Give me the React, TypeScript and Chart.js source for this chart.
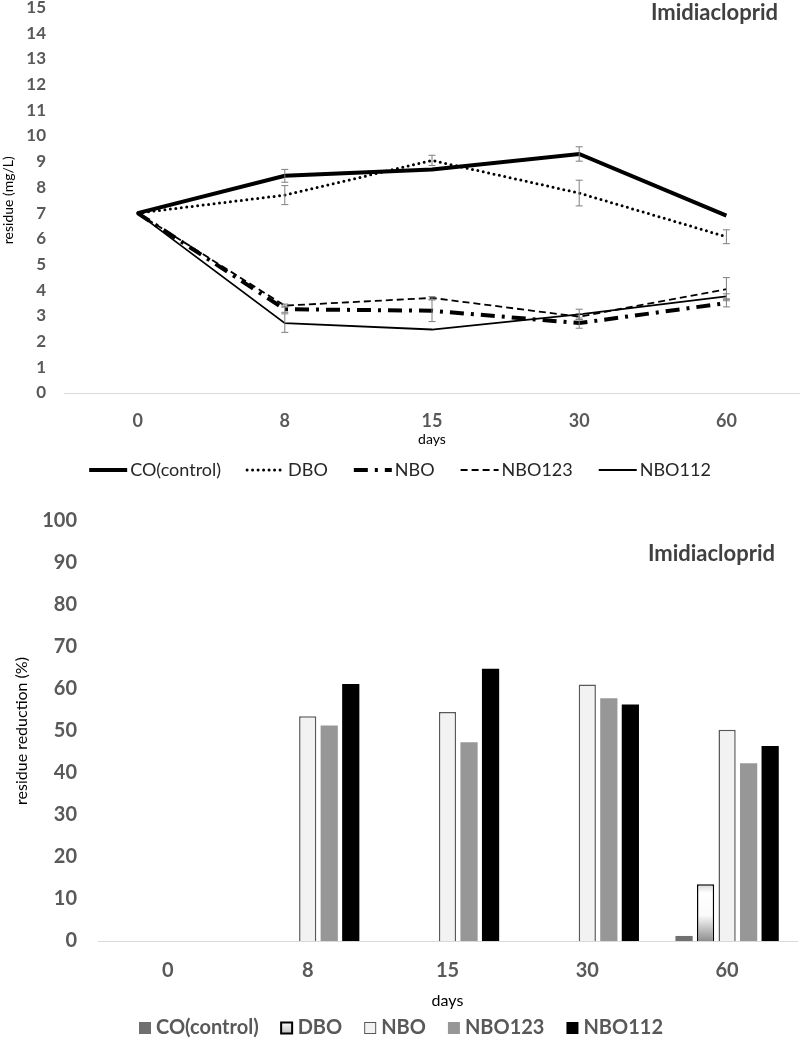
import React, { useEffect, useRef } from "react";
import { Chart, registerables } from "chart.js";

Chart.register(...registerables);

const FONT = "Lato, 'Open Sans', sans-serif";

// ---------- data ----------
const days = ["0", "8", "15", "30", "60"];
const seriesNames = ["CO(control)", "DBO", "NBO", "NBO123", "NBO112"];

// residue (mg/L)
const residueCO = [7.0, 8.45, 8.7, 9.3, 6.9];
const residueDBO = [7.0, 7.7, 9.05, 7.78, 6.08];
const residueNBO = [7.0, 3.26, 3.2, 2.72, 3.5];
const residueNBO123 = [7.0, 3.4, 3.7, 2.97, 4.04];
const residueNBO112 = [7.0, 2.72, 2.47, 3.06, 3.76];

// error bar half-widths (mg/L)
const errCO = [0, 0.25, 0, 0.28, 0];
const errDBO = [0, 0.37, 0.2, 0.5, 0.27];
const errNBO = [0, 0.12, 0.42, 0.2, 0.15];
const errNBO123 = [0, 0.06, 0.05, 0.12, 0.45];
const errNBO112 = [0, 0.36, 0, 0.2, 0.1];

// residue reduction (%)
const reductionCO = [0, 0, 0, 0, 1.2];
const reductionDBO = [0, 0, 0, 0, 13.5];
const reductionNBO = [0, 53.5, 54.5, 61.1, 50.3];
const reductionNBO123 = [0, 51.3, 47.3, 57.8, 42.3];
const reductionNBO112 = [0, 61.2, 64.8, 56.3, 46.4];

const residueAxis = { min: 0, max: 15, step: 1 };
const reductionAxis = { min: 0, max: 100, step: 10 };

const chemical = "Imidiacloprid";
const xTitle = "days";
const residueTitle = "residue (mg/L)";
const reductionTitle = "residue reduction (%)";

// ---------- plugins ----------
const cornerTitle = {
  id: "cornerTitle",
  afterDraw(chart: any, _a: any, opts: any) {
    if (!opts || !opts.text) return;
    const ctx = chart.ctx;
    ctx.save();
    ctx.font = `bold ${opts.size}px ${FONT}`;
    ctx.fillStyle = opts.color;
    ctx.textAlign = "right";
    ctx.textBaseline = "middle";
    ctx.fillText(opts.text, opts.x, opts.y);
    ctx.restore();
  },
};

const errorBars = {
  id: "errorBars",
  afterDatasetsDraw(chart: any) {
    const ctx = chart.ctx;
    const ys = chart.scales.y;
    ctx.save();
    ctx.strokeStyle = "#7f7f7f";
    ctx.lineWidth = 1;
    chart.data.datasets.forEach((ds: any, di: number) => {
      if (!ds.errorBars) return;
      const meta = chart.getDatasetMeta(di);
      ds.errorBars.forEach((e: number, i: number) => {
        if (!e) return;
        const v = ds.data[i];
        const x = meta.data[i].x;
        const yt = ys.getPixelForValue(v + e);
        const yb = ys.getPixelForValue(v - e);
        ctx.beginPath();
        ctx.moveTo(x, yt);
        ctx.lineTo(x, yb);
        ctx.moveTo(x - 3.5, yt);
        ctx.lineTo(x + 3.5, yt);
        ctx.moveTo(x - 3.5, yb);
        ctx.lineTo(x + 3.5, yb);
        ctx.stroke();
      });
    });
    ctx.restore();
  },
};

const customLegend = {
  id: "customLegend",
  afterDraw(chart: any, _a: any, opts: any) {
    if (!opts || !opts.kind) return;
    const ctx = chart.ctx;
    ctx.save();
    ctx.font = opts.font;
    const items = chart.data.datasets.map((ds: any) => ({
      ds,
      w: ctx.measureText(ds.label).width,
    }));
    const total =
      items.reduce((s: number, it: any) => s + opts.sampleWidth + opts.sampleGap + it.w, 0) +
      opts.gap * (items.length - 1);
    let x = opts.centerX - total / 2;
    const y = opts.y;
    items.forEach(({ ds, w }: any) => {
      if (opts.kind === "line") {
        ctx.save();
        ctx.strokeStyle = ds.borderColor;
        ctx.lineWidth = ds.borderWidth;
        ctx.setLineDash(ds.borderDash || []);
        ctx.lineCap = ds.borderCapStyle || "butt";
        ctx.beginPath();
        ctx.moveTo(x, y);
        ctx.lineTo(x + opts.sampleWidth, y);
        ctx.stroke();
        ctx.restore();
      } else {
        const s = opts.sampleWidth;
        ctx.save();
        if (ds.legendGradient) {
          const g = ctx.createLinearGradient(0, y - s / 2, 0, y + s / 2);
          g.addColorStop(0, "#ffffff");
          g.addColorStop(1, "#bdbdbd");
          ctx.fillStyle = g;
        } else {
          ctx.fillStyle = ds.backgroundColor;
        }
        ctx.fillRect(x, y - s / 2, s, s);
        if (ds.legendBorder) {
          ctx.strokeStyle = ds.legendBorder;
          ctx.lineWidth = ds.legendBorderWidth || 1;
          ctx.strokeRect(x + 0.5, y - s / 2 + 0.5, s - 1, s - 1);
        }
        ctx.restore();
      }
      ctx.fillStyle = opts.color;
      ctx.textBaseline = "middle";
      ctx.textAlign = "left";
      ctx.fillText(ds.label, x + opts.sampleWidth + opts.sampleGap, y);
      x += opts.sampleWidth + opts.sampleGap + w + opts.gap;
    });
    ctx.restore();
  },
};

// ---------- charts ----------
function makeLineChart(canvas: HTMLCanvasElement) {
  const mk = (i: number, data: number[], err: number[], width: number, dash: number[], cap = "butt") => ({
    label: seriesNames[i],
    data,
    errorBars: err,
    borderColor: "#000000",
    backgroundColor: "#000000",
    borderWidth: width,
    borderDash: dash,
    borderCapStyle: cap,
    pointRadius: 0,
    pointHoverRadius: 0,
    tension: 0,
    fill: false,
  });
  return new Chart(canvas, {
    type: "line",
    data: {
      labels: days,
      datasets: [
        mk(0, residueCO, errCO, 4, []),
        mk(1, residueDBO, errDBO, 3, [0, 5.5], "round"),
        mk(2, residueNBO, errNBO, 4, [14, 7, 3, 7]),
        mk(3, residueNBO123, errNBO123, 1.8, [7, 4]),
        mk(4, residueNBO112, errNBO112, 1.8, []),
      ] as any,
    },
    options: {
      animation: false,
      responsive: false,
      maintainAspectRatio: false,
      layout: { padding: { left: 0, right: 0, top: 0, bottom: 37 } },
      plugins: {
        legend: { display: false },
        tooltip: { enabled: false },
        cornerTitle: { text: chemical, x: 778, y: 13, size: 22, color: "#404040" },
        customLegend: {
          kind: "line",
          font: `18px ${FONT}`,
          color: "#262626",
          y: 470,
          centerX: 400,
          sampleWidth: 38,
          sampleGap: 3,
          gap: 26,
        },
      } as any,
      scales: {
        x: {
          offset: true,
          grid: { display: false, drawTicks: false },
          border: { display: true, color: "#d9d9d9", width: 1 },
          ticks: { font: { family: FONT, size: 18, weight: "bold" }, color: "#595959", padding: 17 },
          title: {
            display: true,
            text: xTitle,
            font: { family: FONT, size: 14 },
            color: "#000000",
            padding: { top: 0, bottom: 5 },
          },
          afterFit: (s: any) => {
            s.height = 60;
          },
        },
        y: {
          min: residueAxis.min,
          max: residueAxis.max,
          grid: { display: false, drawTicks: false },
          border: { display: false },
          ticks: {
            stepSize: residueAxis.step,
            font: { family: FONT, size: 17, weight: "bold" },
            color: "#595959",
            padding: 18,
          },
          title: {
            display: true,
            text: residueTitle,
            font: { family: FONT, size: 14 },
            color: "#000000",
            padding: { top: 0, bottom: 0 },
          },
          afterFit: (s: any) => {
            s.width = 64;
            s.paddingTop = 7.5;
          },
        },
      } as any,
    },
    plugins: [errorBars, cornerTitle, customLegend],
  });
}

function makeBarChart(canvas: HTMLCanvasElement) {
  const dboGradient = (c: any) => {
    const chart = c.chart;
    const ys = chart.scales && chart.scales.y;
    if (!chart.chartArea || !ys) return "#eeeeee";
    const v = c.raw || 0;
    const top = ys.getPixelForValue(v);
    const base = ys.getPixelForValue(0);
    const g = chart.ctx.createLinearGradient(0, top, 0, base);
    g.addColorStop(0, "#d6d6d6");
    g.addColorStop(0.15, "#ffffff");
    g.addColorStop(0.55, "#fafafa");
    g.addColorStop(1, "#8f8f8f");
    return g;
  };
  return new Chart(canvas, {
    type: "bar",
    data: {
      labels: days,
      datasets: [
        { label: seriesNames[0], data: reductionCO, backgroundColor: "#707070", borderWidth: 0 },
        {
          label: seriesNames[1],
          data: reductionDBO,
          backgroundColor: dboGradient,
          borderColor: "#000000",
          borderWidth: 1.5,
          legendGradient: true,
          legendBorder: "#000000",
          legendBorderWidth: 2,
        },
        {
          label: seriesNames[2],
          data: reductionNBO,
          backgroundColor: "#f2f2f2",
          borderColor: "#595959",
          borderWidth: 1.5,
          legendBorder: "#595959",
          legendBorderWidth: 1,
        },
        { label: seriesNames[3], data: reductionNBO123, backgroundColor: "#979797", borderWidth: 0 },
        { label: seriesNames[4], data: reductionNBO112, backgroundColor: "#000000", borderWidth: 0 },
      ] as any,
    },
    options: {
      animation: false,
      responsive: false,
      maintainAspectRatio: false,
      layout: { padding: { left: 0, right: 3, top: 0, bottom: 27 } },
      datasets: { bar: { categoryPercentage: 0.77, barPercentage: 0.8 } } as any,
      plugins: {
        legend: { display: false },
        tooltip: { enabled: false },
        cornerTitle: { text: chemical, x: 775, y: 64, size: 22, color: "#404040" },
        customLegend: {
          kind: "box",
          font: `bold 20px ${FONT}`,
          color: "#595959",
          y: 538,
          centerX: 401,
          sampleWidth: 12,
          sampleGap: 5,
          gap: 22,
        },
      } as any,
      scales: {
        x: {
          grid: { display: false, drawTicks: false },
          border: { display: true, color: "#d9d9d9", width: 1 },
          ticks: { font: { family: FONT, size: 20, weight: "bold" }, color: "#595959", padding: 18 },
          title: {
            display: true,
            text: xTitle,
            font: { family: FONT, size: 16 },
            color: "#000000",
            padding: { top: 0, bottom: 3 },
          },
          afterFit: (s: any) => {
            s.height = 72;
          },
        },
        y: {
          min: reductionAxis.min,
          max: reductionAxis.max,
          grid: { display: false, drawTicks: false },
          border: { display: false },
          ticks: {
            stepSize: reductionAxis.step,
            font: { family: FONT, size: 20, weight: "bold" },
            color: "#595959",
            padding: 21,
          },
          title: {
            display: true,
            text: reductionTitle,
            font: { family: FONT, size: 16 },
            color: "#000000",
            padding: { top: 12, bottom: 0 },
          },
          afterFit: (s: any) => {
            s.width = 98;
            s.paddingTop = 31;
          },
        },
      } as any,
    },
    plugins: [cornerTitle, customLegend],
  });
}

export default function App() {
  const topRef = useRef<HTMLCanvasElement | null>(null);
  const botRef = useRef<HTMLCanvasElement | null>(null);

  useEffect(() => {
    document.body.style.margin = "0";
    document.body.style.background = "#ffffff";
    const c1 = topRef.current ? makeLineChart(topRef.current) : null;
    const c2 = botRef.current ? makeBarChart(botRef.current) : null;
    return () => {
      c1 && c1.destroy();
      c2 && c2.destroy();
    };
  }, []);

  return (
    <div style={{ width: 800, background: "#ffffff" }}>
      <canvas ref={topRef} width={800} height={490} style={{ display: "block", width: 800, height: 490 }} />
      <canvas ref={botRef} width={800} height={550} style={{ display: "block", width: 800, height: 550 }} />
    </div>
  );
}
